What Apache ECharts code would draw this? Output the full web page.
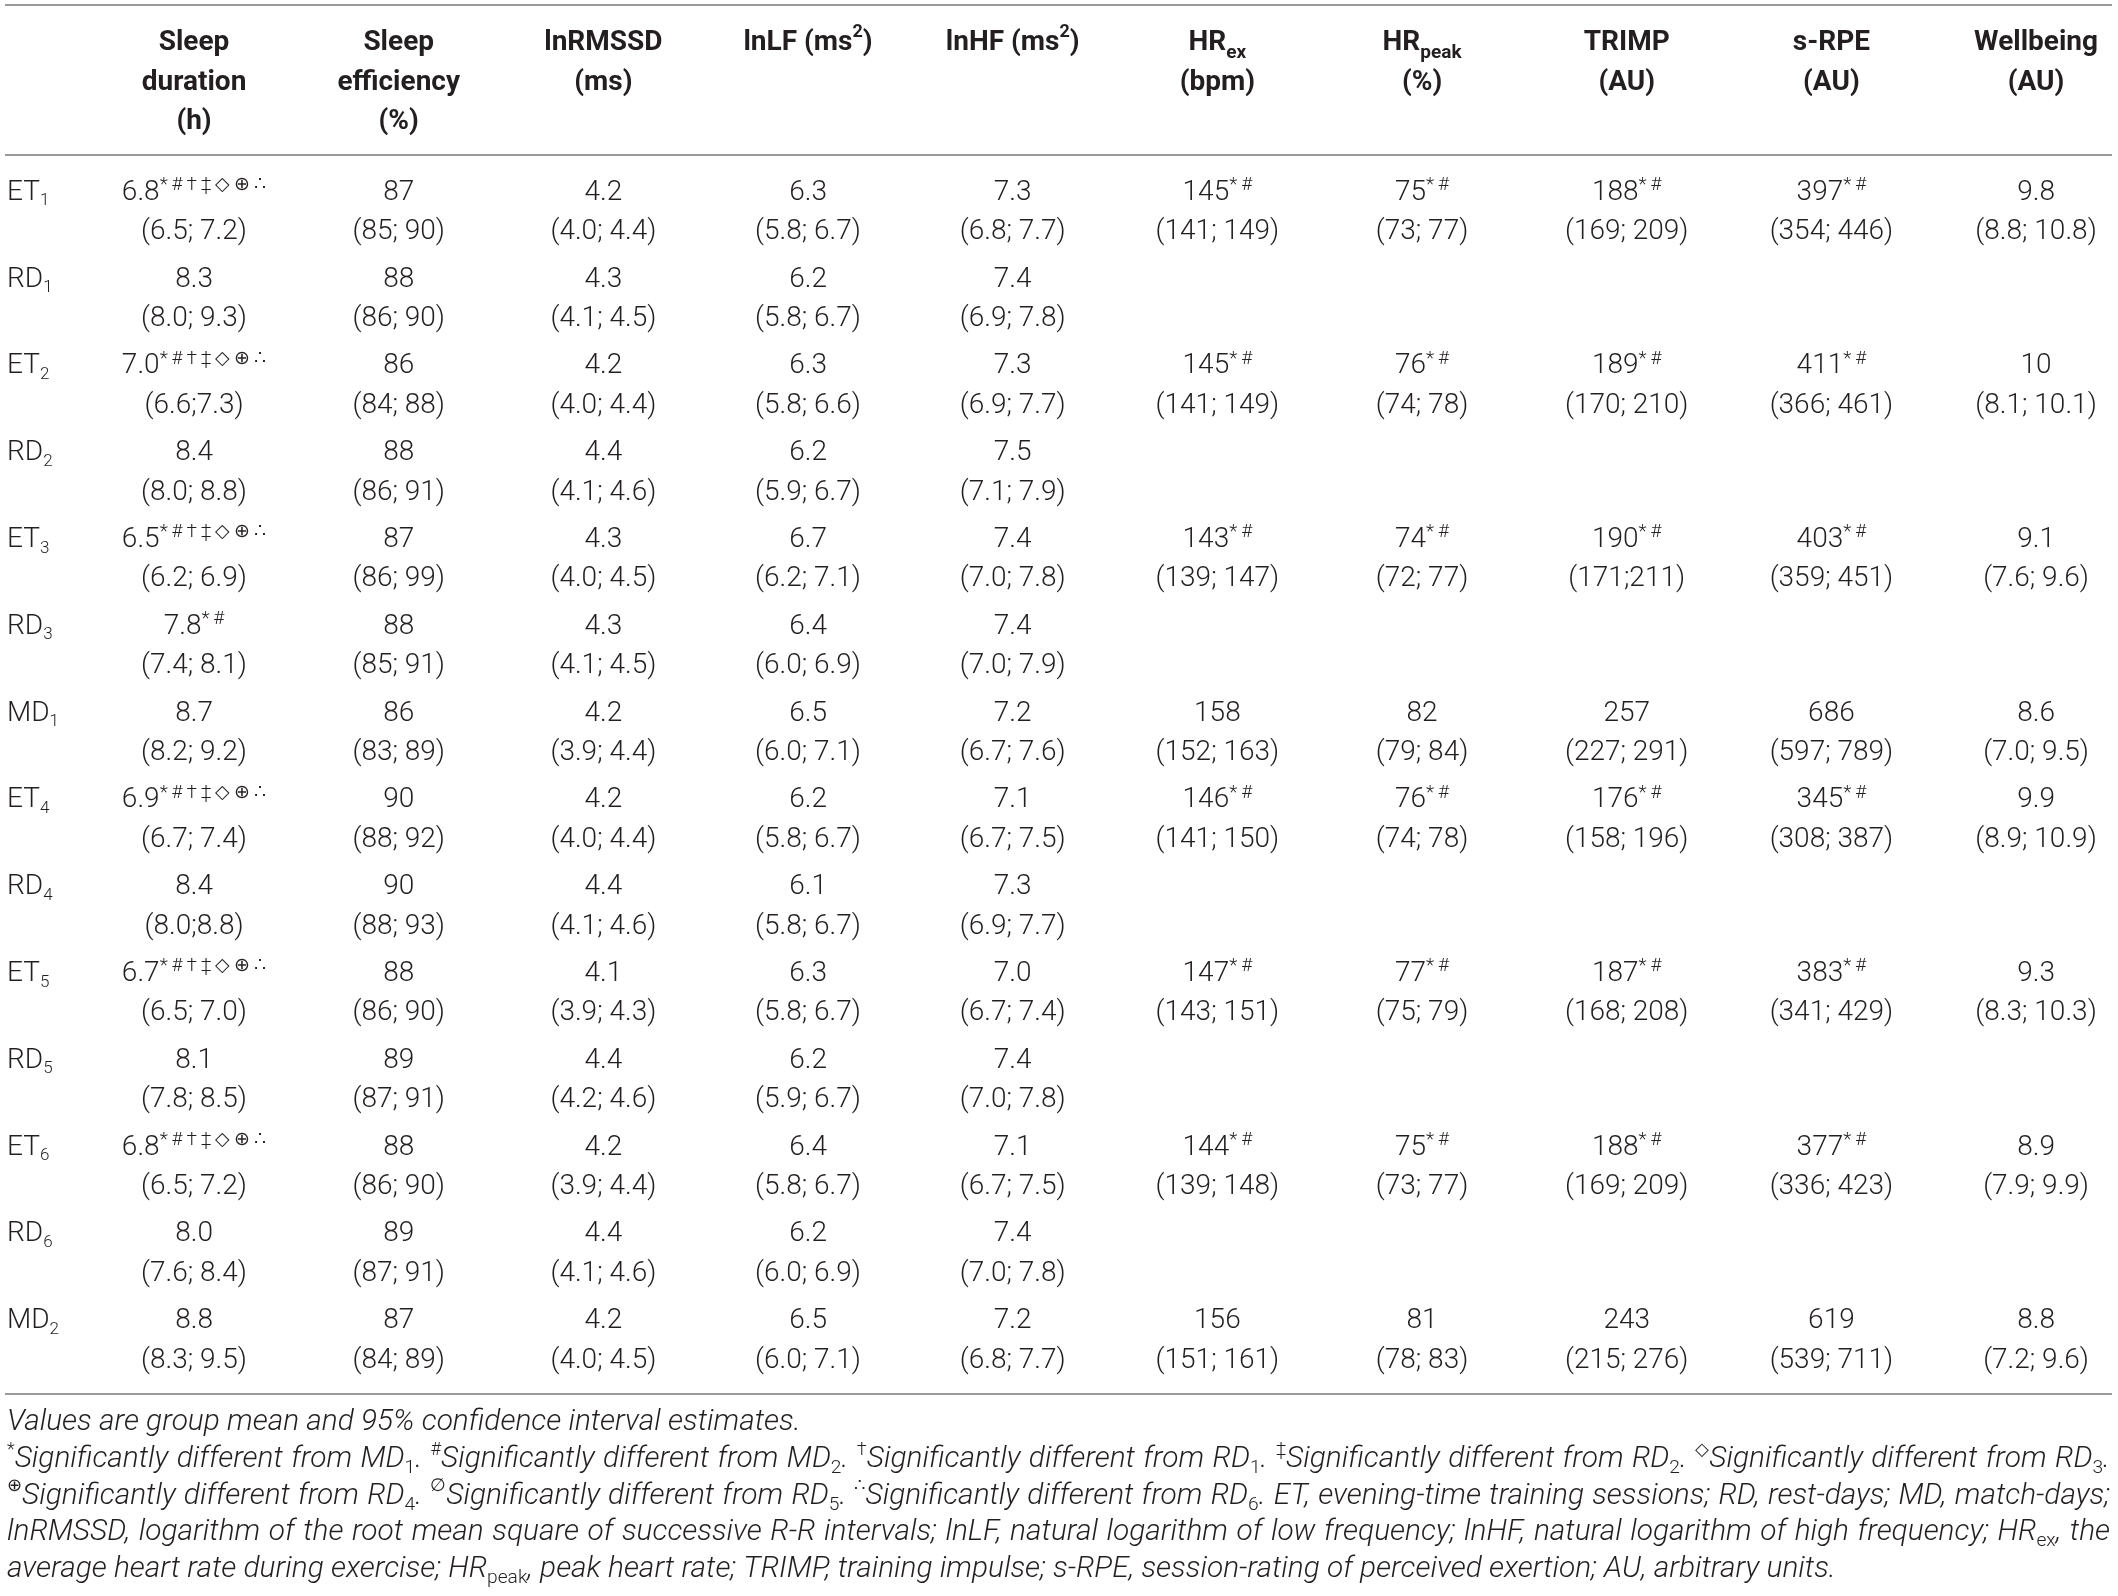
<!DOCTYPE html>
<html>
<head>
<meta charset="utf-8">
<script src="https://cdn.jsdelivr.net/npm/echarts@6/dist/echarts.min.js"></script>
<style>
  html, body { margin: 0; padding: 0; background: #fff; }
  #table_chart { width: 2118px; height: 1596px; }
</style>
</head>
<body>
<div id="table_chart"></div>
<script>
// rows and column headers
var rowNames = ['ET1', 'RD1', 'ET2', 'RD2', 'ET3', 'RD3', 'MD1', 'ET4', 'RD4', 'ET5', 'RD5', 'ET6', 'RD6', 'MD2'];
var headers = [
  'Sleep\nduration\n(h)', 'Sleep\nefficiency\n(%)', 'lnRMSSD\n(ms)', 'lnLF (ms{sup|2})', 'lnHF (ms{sup|2})',
  'HR{sub|ex}\n(bpm)', 'HR{sub|peak}\n(%)', 'TRIMP\n(AU)', 's-RPE\n(AU)', 'Wellbeing\n(AU)'
];

// group means, 95% CI and significance marks
var sleepDuration = ['6.8', '8.3', '7.0', '8.4', '6.5', '7.8', '8.7', '6.9', '8.4', '6.7', '8.1', '6.8', '8.0', '8.8'];
var sleepDurationCI = ['6.5; 7.2', '8.0; 9.3', '6.6;7.3', '8.0; 8.8', '6.2; 6.9', '7.4; 8.1', '8.2; 9.2', '6.7; 7.4', '8.0;8.8', '6.5; 7.0', '7.8; 8.5', '6.5; 7.2', '7.6; 8.4', '8.3; 9.5'];
var sleepMarks = ['*#†‡◇⊕∴', '', '*#†‡◇⊕∴', '', '*#†‡◇⊕∴', '*#', '', '*#†‡◇⊕∴', '', '*#†‡◇⊕∴', '', '*#†‡◇⊕∴', '', ''];
var sleepEfficiency = ['87', '88', '86', '88', '87', '88', '86', '90', '90', '88', '89', '88', '89', '87'];
var sleepEfficiencyCI = ['85; 90', '86; 90', '84; 88', '86; 91', '86; 99', '85; 91', '83; 89', '88; 92', '88; 93', '86; 90', '87; 91', '86; 90', '87; 91', '84; 89'];
var lnRMSSD = ['4.2', '4.3', '4.2', '4.4', '4.3', '4.3', '4.2', '4.2', '4.4', '4.1', '4.4', '4.2', '4.4', '4.2'];
var lnRMSSDCI = ['4.0; 4.4', '4.1; 4.5', '4.0; 4.4', '4.1; 4.6', '4.0; 4.5', '4.1; 4.5', '3.9; 4.4', '4.0; 4.4', '4.1; 4.6', '3.9; 4.3', '4.2; 4.6', '3.9; 4.4', '4.1; 4.6', '4.0; 4.5'];
var lnLF = ['6.3', '6.2', '6.3', '6.2', '6.7', '6.4', '6.5', '6.2', '6.1', '6.3', '6.2', '6.4', '6.2', '6.5'];
var lnLFCI = ['5.8; 6.7', '5.8; 6.7', '5.8; 6.6', '5.9; 6.7', '6.2; 7.1', '6.0; 6.9', '6.0; 7.1', '5.8; 6.7', '5.8; 6.7', '5.8; 6.7', '5.9; 6.7', '5.8; 6.7', '6.0; 6.9', '6.0; 7.1'];
var lnHF = ['7.3', '7.4', '7.3', '7.5', '7.4', '7.4', '7.2', '7.1', '7.3', '7.0', '7.4', '7.1', '7.4', '7.2'];
var lnHFCI = ['6.8; 7.7', '6.9; 7.8', '6.9; 7.7', '7.1; 7.9', '7.0; 7.8', '7.0; 7.9', '6.7; 7.6', '6.7; 7.5', '6.9; 7.7', '6.7; 7.4', '7.0; 7.8', '6.7; 7.5', '7.0; 7.8', '6.8; 7.7'];
var hrEx = ['145', null, '145', null, '143', null, '158', '146', null, '147', null, '144', null, '156'];
var hrExCI = ['141; 149', null, '141; 149', null, '139; 147', null, '152; 163', '141; 150', null, '143; 151', null, '139; 148', null, '151; 161'];
var hrPeak = ['75', null, '76', null, '74', null, '82', '76', null, '77', null, '75', null, '81'];
var hrPeakCI = ['73; 77', null, '74; 78', null, '72; 77', null, '79; 84', '74; 78', null, '75; 79', null, '73; 77', null, '78; 83'];
var trimp = ['188', null, '189', null, '190', null, '257', '176', null, '187', null, '188', null, '243'];
var trimpCI = ['169; 209', null, '170; 210', null, '171;211', null, '227; 291', '158; 196', null, '168; 208', null, '169; 209', null, '215; 276'];
var sRPE = ['397', null, '411', null, '403', null, '686', '345', null, '383', null, '377', null, '619'];
var sRPECI = ['354; 446', null, '366; 461', null, '359; 451', null, '597; 789', '308; 387', null, '341; 429', null, '336; 423', null, '539; 711'];
var wellbeing = ['9.8', null, '10', null, '9.1', null, '8.6', '9.9', null, '9.3', null, '8.9', null, '8.8'];
var wellbeingCI = ['8.8; 10.8', null, '8.1; 10.1', null, '7.6; 9.6', null, '7.0; 9.5', '8.9; 10.9', null, '8.3; 10.3', null, '7.9; 9.9', null, '7.2; 9.6'];
var loadMarks = ['*#', '', '*#', '', '*#', '', '', '*#', '', '*#', '', '*#', '', ''];

// footnote lines (last three sentences are justified in the source)
var footLines = [
  'Values are group mean and 95% confidence interval estimates.',
  '{sup|*}Significantly different from MD{sub|1}. {sup|#}Significantly different from MD{sub|2}. {sup|†}Significantly different from RD{sub|1}. {sup|‡}Significantly different from RD{sub|2}. {sup|◇}Significantly different from RD{sub|3}.',
  '{sup|⊕}Significantly different from RD{sub|4}. {sup|∅}Significantly different from RD{sub|5}. {sup|∴}Significantly different from RD{sub|6}. ET, evening-time training sessions; RD, rest-days; MD, match-days;',
  'lnRMSSD, logarithm of the root mean square of successive R-R intervals; lnLF, natural logarithm of low frequency; lnHF, natural logarithm of high frequency; HR{sub|ex}, the',
  'average heart rate during exercise; HR{sub|peak}, peak heart rate; TRIMP, training impulse; s-RPE, session-rating of perceived exertion; AU, arbitrary units.'
];

var columns = [
  [sleepDuration, sleepDurationCI, sleepMarks],
  [sleepEfficiency, sleepEfficiencyCI, null],
  [lnRMSSD, lnRMSSDCI, null],
  [lnLF, lnLFCI, null],
  [lnHF, lnHFCI, null],
  [hrEx, hrExCI, loadMarks],
  [hrPeak, hrPeakCI, loadMarks],
  [trimp, trimpCI, loadMarks],
  [sRPE, sRPECI, loadMarks],
  [wellbeing, wellbeingCI, null]
];

var FONT = 'Roboto, "Liberation Sans", Arial, sans-serif';
var INK = '#231f20';

// build cell list
var cells = [];
columns.forEach(function (col, c) {
  col[0].forEach(function (v, r) {
    if (v == null) return;
    cells.push({ col: c, row: r, mean: v, ci: col[1][r], marks: col[2] ? col[2][r] : '' });
  });
});

var bodyRich = {
  sup: { fontSize: 19, lineHeight: 19, verticalAlign: 'top', fontFamily: FONT, fontWeight: 300, fill: INK, color: INK },
  sub: { fontSize: 17, lineHeight: 17, verticalAlign: 'bottom', fontFamily: FONT, fontWeight: 300, fill: INK, color: INK }
};

function cellText(text, x, y) {
  return {
    type: 'text',
    style: {
      text: text, x: x, y: y, align: 'center', verticalAlign: 'middle',
      fontSize: 28, fontFamily: FONT, fontWeight: 300, lineHeight: 34, fill: INK,
      rich: bodyRich
    }
  };
}

// --- footnote sizing: fit the free lines, justify the full ones ---
var SUP_R = 17 / 28, SUB_R = 18 / 28;
var ctx = document.createElement('canvas').getContext('2d');
function fontStr(size, italic) {
  return (italic ? 'italic ' : 'normal ') + '300 ' + size + 'px ' + FONT;
}
function lineWidth(line, fs) {
  var w = 0, re = /\{(\w+)\|([^}]*)\}|([^{]+)/g, m;
  while ((m = re.exec(line))) {
    if (m[3] != null) {
      ctx.font = fontStr(fs, true);
      w += ctx.measureText(m[3]).width;
    } else {
      ctx.font = fontStr(fs * (m[1] === 'sup' ? SUP_R : SUB_R), false);
      w += ctx.measureText(m[2]).width;
    }
  }
  return w;
}
var FOOT_X = 7, FOOT_W = 2103;
var fsFit = 28 * 0.5 * (786 / lineWidth(footLines[0], 28) + 1848 / lineWidth(footLines[4], 28));
var widest = Math.max(lineWidth(footLines[1], 28), lineWidth(footLines[2], 28), lineWidth(footLines[3], 28));
var fsMax = 28 * FOOT_W / widest * 1.01;
var footFs = Math.min(fsFit, fsMax);

var footGraphics = footLines.map(function (line, i) {
  var text = line, spSize = footFs;
  if (i >= 1 && i <= 3) {
    var n = line.split(' ').length - 1;
    ctx.font = fontStr(footFs, true);
    var sw = ctx.measureText(' ').width;
    var extra = FOOT_W - lineWidth(line, footFs);
    spSize = footFs * Math.max(0.3, (sw + extra / n) / sw);
    text = line.replace(/ /g, '{sp| }');
  }
  return {
    type: 'text', left: FOOT_X, top: 1423 - 18.3 + i * 36.6,
    style: {
      text: text,
      fontSize: footFs, fontStyle: 'italic', fontWeight: 300, fontFamily: FONT, lineHeight: 36.6, fill: INK,
      rich: {
        sp: { fontSize: spSize, lineHeight: 10, fontStyle: 'italic', fontWeight: 300, fontFamily: FONT, fill: INK },
        sup: { fontSize: footFs * SUP_R, lineHeight: 17, verticalAlign: 'top', fontWeight: 300, fontFamily: FONT, fill: INK },
        sub: { fontSize: footFs * SUB_R, lineHeight: 18, verticalAlign: 'bottom', fontWeight: 300, fontFamily: FONT, fill: INK }
      }
    }
  };
});

var rules = [5, 155, 1394].map(function (y) {
  return { type: 'line', shape: { x1: 5, y1: y, x2: 2112, y2: y }, style: { stroke: '#9a9a9a', lineWidth: 2 } };
});

var myChart = echarts.init(document.getElementById('table_chart'));
var option = {
  backgroundColor: '#fff',
  animation: false,
  grid: { left: 91.7, top: 168.8, width: 2046.7, height: 1215.2, outerBoundsMode: 'none', containLabel: false },
  xAxis: {
    type: 'category',
    position: 'top',
    data: headers,
    boundaryGap: true,
    axisLine: { show: false },
    axisTick: { show: false },
    splitLine: { show: false },
    axisLabel: {
      interval: 0,
      margin: 145.5,
      verticalAlign: 'top',
      align: 'center',
      fontSize: 28,
      fontWeight: 'bold',
      fontFamily: FONT,
      lineHeight: 39.5,
      color: INK,
      rich: {
        sup: { fontSize: 18, lineHeight: 18, verticalAlign: 'top', fontWeight: 'bold', fontFamily: FONT, color: INK },
        sub: { fontSize: 19, lineHeight: 19, verticalAlign: 'bottom', fontWeight: 'bold', fontFamily: FONT, color: INK }
      }
    }
  },
  yAxis: {
    type: 'category',
    inverse: true,
    data: rowNames,
    axisLine: { show: false },
    axisTick: { show: false },
    splitLine: { show: false },
    axisLabel: {
      interval: 0,
      margin: 84.7,
      align: 'left',
      verticalAlign: 'middle',
      padding: [0, 0, 39, 0],
      fontSize: 28,
      fontWeight: 300,
      fontFamily: FONT,
      lineHeight: 34,
      color: INK,
      formatter: function (v) {
        return v.replace(/(\d+)$/, '{sub|$1}');
      },
      rich: {
        sub: { fontSize: 17, lineHeight: 17, verticalAlign: 'bottom', fontWeight: 300, fontFamily: FONT, color: INK }
      }
    }
  },
  graphic: rules.concat(footGraphics),
  series: [{
    type: 'custom',
    coordinateSystem: 'cartesian2d',
    encode: { x: 0, y: 1 },
    data: cells.map(function (c) { return [c.col, c.row]; }),
    clip: false,
    renderItem: function (params, api) {
      var cell = cells[params.dataIndex];
      var p = api.coord([api.value(0), api.value(1)]);
      var top = cell.mean + (cell.marks ? '{sup|' + cell.marks.split('').join('\u2009') + '}' : '');
      return {
        type: 'group',
        children: [
          cellText(top, p[0], p[1] - 19.5),
          cellText('(' + cell.ci + ')', p[0], p[1] + 20)
        ]
      };
    }
  }]
};
myChart.setOption(option);
window.onresize = function () {
  myChart.resize();
};
</script>
</body>
</html>
